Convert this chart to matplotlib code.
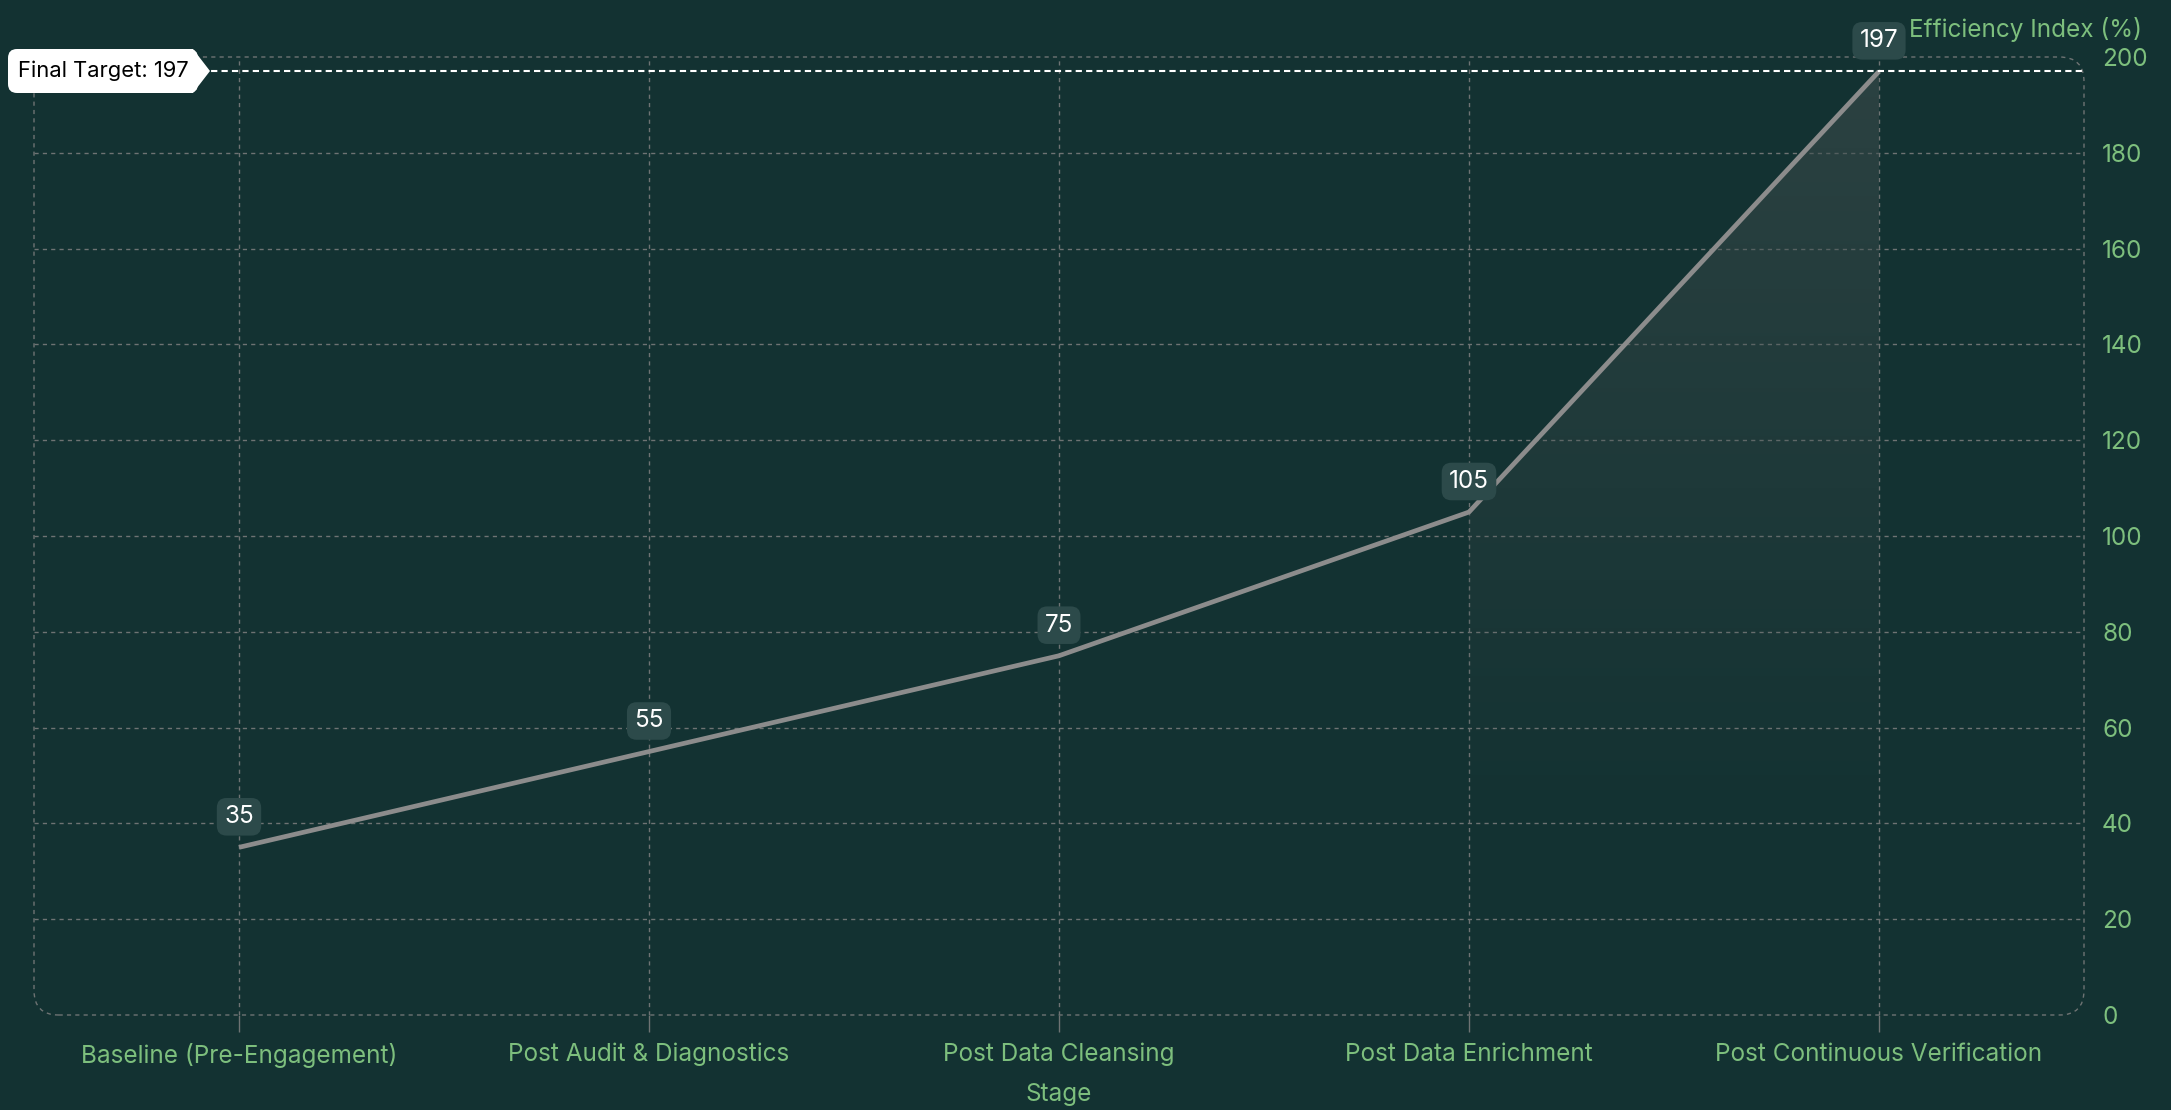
import numpy as np
import matplotlib.pyplot as plt
from matplotlib.patches import FancyBboxPatch, Polygon
from matplotlib.transforms import IdentityTransform
import matplotlib.colors as mcolors

plt.rcParams['font.family'] = ['Inter', 'DejaVu Sans']

stages = ["Baseline (Pre-Engagement)", "Post Audit & Diagnostics", "Post Data Cleansing",
          "Post Data Enrichment", "Post Continuous Verification"]
efficiency = [35, 55, 75, 105, 197]
target = 197
y_ticks = [0, 20, 40, 60, 80, 100, 120, 140, 160, 180, 200]

bg = "#133232"
green = "#7dbf7d"
grid_col = "#6e7373"
fs = 17.5

W, H = 2171, 1110
fig = plt.figure(figsize=(W / 100, H / 100), dpi=100, facecolor=bg)
ax = fig.add_axes([34 / W, 1 - 1015 / H, (2084 - 34) / W, (1015 - 57) / H])
ax.set_facecolor(bg)

x = np.arange(len(stages))
ax.set_xlim(-0.5, len(stages) - 0.5)
ax.set_ylim(0, 200)

# grid
for yv in y_ticks[1:-1]:
    ax.axhline(yv, color=grid_col, lw=1, ls=(0, (3, 3)), zorder=1)
for xv in x:
    ax.axvline(xv, color=grid_col, lw=1, ls=(0, (3, 3)), zorder=1)

for s in ax.spines.values():
    s.set_visible(False)
border = FancyBboxPatch((0, 0), 1, 1, boxstyle="round,pad=0,rounding_size=0.012",
                        transform=ax.transAxes, fill=False, ec=grid_col, lw=1,
                        ls=(0, (3, 3)), clip_on=False, zorder=1,
                        mutation_aspect=(2084 - 34) / (1015 - 57))
ax.add_patch(border)

# gradient area under last segment
seg_x = [x[3], x[4], x[4], x[3]]
seg_y = [efficiency[3], efficiency[4], 0, 0]
poly = Polygon(list(zip(seg_x, seg_y)), closed=True, facecolor="none", edgecolor="none")
ax.add_patch(poly)
grad = np.zeros((256, 1, 4))
grad[:, 0, :3] = mcolors.to_rgb("#3c4c4c")
grad[:, 0, 3] = np.clip(np.linspace(0.6, -0.15, 256), 0, 1)
im = ax.imshow(grad, extent=[x[3], x[4], 0, target], origin="upper", aspect="auto", zorder=2)
im.set_clip_path(poly)

ax.plot(x, efficiency, color="#8c8c8c", lw=3.4, zorder=3, solid_capstyle="butt")

# target line
ax.axhline(target, color="white", lw=1.5, ls=(0, (3, 2)), zorder=4)

# target tag (pixel coords, origin bottom-left)
yc = H - 71
tag = FancyBboxPatch((8, yc - 22), 190, 44, boxstyle="round,pad=0,rounding_size=9",
                     transform=IdentityTransform(), fc="white", ec="none", zorder=5)
fig.patches.append(tag)
tip = Polygon([[185, yc + 22], [193, yc + 22], [210, yc], [193, yc - 22], [185, yc - 22]],
              closed=True, transform=IdentityTransform(), fc="white", ec="none", zorder=5)
fig.patches.append(tip)
fig.text(18 / W, yc / H, "Final Target: 197", ha="left", va="center", fontsize=15.8,
         color="black", zorder=6)

# value labels
for xi, v in zip(x, efficiency):
    ax.annotate(str(v), (xi, v), xytext=(0, 22), textcoords="offset points", ha="center",
                va="center", color="white", fontsize=fs, zorder=7, annotation_clip=False,
                bbox=dict(boxstyle="round,pad=0.3,rounding_size=0.4", fc="#2c4a4a", ec="none"))

ax.yaxis.tick_right()
ax.set_yticks(y_ticks)
ax.set_xticks(x)
ax.set_xticklabels(stages)
ax.tick_params(axis="y", length=0, pad=13, labelcolor=green, labelsize=fs)
ax.tick_params(axis="x", length=12, width=1, color=grid_col, pad=8, labelcolor=green, labelsize=fs)
for lbl in ax.get_yticklabels():
    lbl.set_horizontalalignment("left")

ax.set_xlabel("Stage", color=green, fontsize=fs, labelpad=11)
fig.text(2142 / W, 1 - 29 / H, "Efficiency Index (%)", color=green, fontsize=fs,
         ha="right", va="center")

fig.savefig("out.png", dpi=100, facecolor=bg)
